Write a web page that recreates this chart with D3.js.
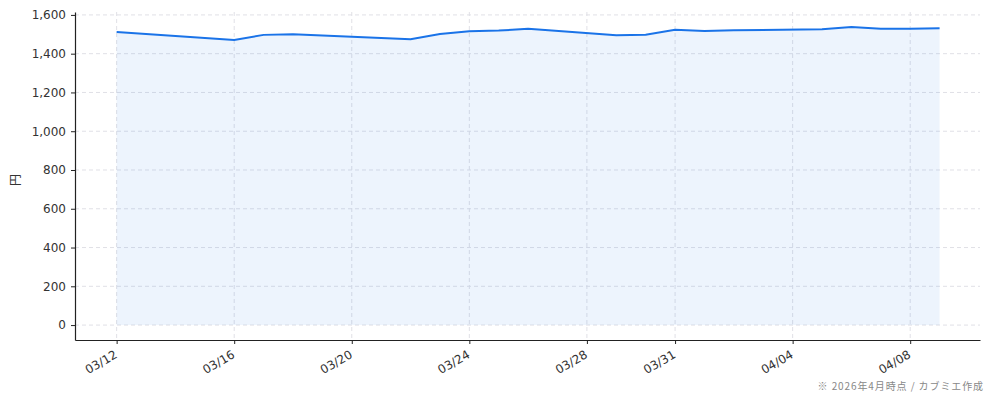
<!DOCTYPE html>
<html>
<head>
<meta charset="utf-8">
<script src="https://d3js.org/d3.v7.min.js"></script>
<style>
  body { margin: 0; background: #fff; }
  text { font-family: "DejaVu Sans", "Noto Sans CJK JP", sans-serif; }
</style>
</head>
<body>
<div id="viz"></div>
<script>
// values
const dates = ['2026-03-12','2026-03-16','2026-03-17','2026-03-18','2026-03-22','2026-03-23',
               '2026-03-24','2026-03-25','2026-03-26','2026-03-29','2026-03-30','2026-03-31',
               '2026-04-01','2026-04-02','2026-04-05','2026-04-06','2026-04-07','2026-04-08','2026-04-09'];
const prices = [1512,1471,1497,1500,1475,1502,1516,1519,1528,1495,1498,1524,1517,1521,1526,1537,1529,1528,1531];
const tickDates = ['2026-03-12','2026-03-16','2026-03-20','2026-03-24','2026-03-28','2026-03-31','2026-04-04','2026-04-08'];
const yTicks = [0,200,400,600,800,1000,1200,1400,1600];

let width = 994, height = 400;
let mLeft = 75, mRight = 980, mTop = 12, mBottom = 340;

const parse = d3.timeParse('%Y-%m-%d');
const data = dates.map((d, i) => ({date: parse(d), value: prices[i]}));

let svg = d3.select('#viz').append('svg')
    .attr('width', width)
    .attr('height', height);

let x = d3.scaleTime()
    .domain([d3.timeHour.offset(data[0].date, -33.6), d3.timeHour.offset(data[data.length-1].date, 33.6)])
    .range([mLeft, mRight]);

let y = d3.scaleLinear()
    .domain([-77, 1615])
    .range([mBottom, mTop]);

// grid
svg.append('g')
    .selectAll('line')
    .data(yTicks)
    .enter().append('line')
    .attr('x1', mLeft).attr('x2', mRight)
    .attr('y1', d => y(d)).attr('y2', d => y(d))
    .style('stroke', '#e0e0e6').style('stroke-dasharray', '4,3');

svg.append('g')
    .selectAll('line')
    .data(tickDates.map(parse))
    .enter().append('line')
    .attr('x1', d => x(d)).attr('x2', d => x(d))
    .attr('y1', mTop).attr('y2', mBottom)
    .style('stroke', '#e0e0e6').style('stroke-dasharray', '4,3');

// area + line
svg.append('path')
    .datum(data)
    .attr('d', d3.area().x(d => x(d.date)).y0(y(0)).y1(d => y(d.value)))
    .style('fill', '#1a73e8').style('fill-opacity', 0.08);

svg.append('path')
    .datum(data)
    .attr('d', d3.line().x(d => x(d.date)).y(d => y(d.value)))
    .style('fill', 'none').style('stroke', '#1a73e8').style('stroke-width', 2);

// axes
let yAxis = svg.append('g')
    .attr('transform', `translate(${mLeft},0)`)
    .call(d3.axisLeft(y).tickValues(yTicks).tickFormat(d3.format(',')).tickSize(4).tickSizeOuter(0).tickPadding(5));

let xAxis = svg.append('g')
    .attr('transform', `translate(0,${mBottom})`)
    .call(d3.axisBottom(x).tickValues(tickDates.map(parse)).tickFormat(d3.timeFormat('%m/%d')).tickSize(4).tickSizeOuter(0));

[yAxis, xAxis].forEach(a => {
    a.select('.domain').style('stroke', '#222').style('stroke-width', 1.2);
    a.selectAll('.tick line').style('stroke', '#222');
    a.selectAll('.tick text').style('fill', '#333').style('font-size', '12px')
        .style('font-family', '"DejaVu Sans", sans-serif');
});

xAxis.selectAll('.tick text')
    .attr('text-anchor', 'end')
    .attr('dy', null).attr('y', 0)
    .attr('transform', 'translate(1,17) rotate(-30)');

svg.append('text')
    .attr('transform', `translate(20,${(mTop + mBottom) / 2 + 4}) rotate(-90)`)
    .attr('text-anchor', 'middle')
    .style('font-size', '12px').style('fill', '#333')
    .style('font-family', '"Noto Sans CJK JP", sans-serif')
    .text('円');

svg.append('text')
    .attr('x', 984).attr('y', 390)
    .attr('text-anchor', 'end')
    .style('font-size', '10px').style('fill', '#888')
    .style('letter-spacing', '0.9px')
    .style('font-family', '"Noto Sans CJK JP", sans-serif')
    .text('※ 2026年4月時点 / カブミエ作成');
</script>
</body>
</html>
